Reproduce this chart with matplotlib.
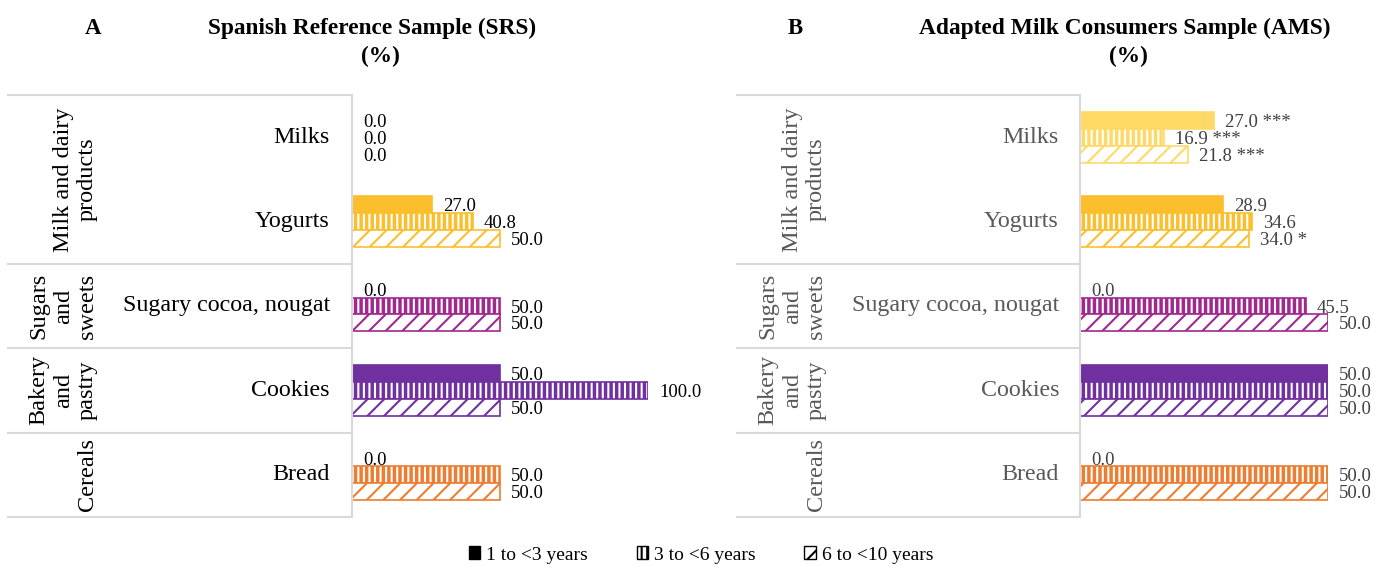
import matplotlib
matplotlib.use("Agg")
import matplotlib.pyplot as plt
import matplotlib.transforms as mtrans
from matplotlib.patches import Patch
from matplotlib.lines import Line2D

# ---------------- data ----------------
categories = ["Milks", "Yogurts", "Sugary cocoa, nougat", "Cookies", "Bread"]
group_labels = ["Milk and dairy\nproducts", "Sugars\nand\nsweets", "Bakery\nand\npastry", "Cereals"]
group_first = [0, 2, 3, 4]
group_last = [1, 2, 3, 4]
series_labels = ["1 to <3 years", "3 to <6 years", "6 to <10 years"]

srs_1_3 = [0.0, 27.0, 0.0, 50.0, 0.0]
srs_3_6 = [0.0, 40.8, 50.0, 100.0, 50.0]
srs_6_10 = [0.0, 50.0, 50.0, 50.0, 50.0]

ams_1_3 = [27.0, 28.9, 0.0, 50.0, 0.0]
ams_3_6 = [16.9, 34.6, 45.5, 50.0, 50.0]
ams_6_10 = [21.8, 34.0, 50.0, 50.0, 50.0]
ams_sig_1_3 = ["***", "", "", "", ""]
ams_sig_3_6 = ["***", "", "", "", ""]
ams_sig_6_10 = ["***", "*", "", "", ""]

colors_srs = ["#FFD966", "#FBBF2D", "#A0288F", "#7030A0", "#ED7D31"]
colors_ams = ["#FFD966", "#FBBF2D", "#A0288F", "#7030A0", "#ED7D31"]

# ---------------- figure ----------------
W, H = 1387, 567
plt.rcParams["font.family"] = ["Liberation Serif", "DejaVu Serif"]
plt.rcParams["hatch.linewidth"] = 1.5
fig = plt.figure(figsize=(W / 100, H / 100), dpi=100)


def fx(px):
    return px / W


def fy(py):
    return 1 - py / H


GRID = "#D9D9D9"
TOP, BOTTOM = 95, 517

panels = [
    dict(letter="A", title="Spanish Reference Sample (SRS)",
         vals=[srs_1_3, srs_3_6, srs_6_10], sigs=[[""] * 5] * 3,
         colors=colors_srs, table_left=8, axis_left=352, axis_right=648,
         xmax=100, tcol="black", vcol="black", letter_x=93, title_x=372, pct_x=380),
    dict(letter="B", title="Adapted Milk Consumers Sample (AMS)",
         vals=[ams_1_3, ams_3_6, ams_6_10], sigs=[ams_sig_1_3, ams_sig_3_6, ams_sig_6_10],
         colors=colors_ams, table_left=737, axis_left=1080, axis_right=1328,
         xmax=50, tcol="#595959", vcol="#404040", letter_x=795, title_x=1125, pct_x=1128),
]

n = len(categories)
bh = 0.2
offsets = [-bh, 0.0, bh]

for p in panels:
    ax = fig.add_axes([fx(p["axis_left"]), fy(BOTTOM), fx(p["axis_right"]) - fx(p["axis_left"]),
                       (BOTTOM - TOP) / H])
    ax.set_xlim(0, p["xmax"])
    ax.set_ylim(n - 0.5, -0.5)
    for s in ["top", "right", "bottom"]:
        ax.spines[s].set_visible(False)
    ax.spines["left"].set_color(GRID)
    ax.spines["left"].set_linewidth(1.5)
    ax.set_xticks([])
    ax.set_yticks([])
    ax.patch.set_alpha(0)

    cols = p["colors"]
    for si, (vals, sigs) in enumerate(zip(p["vals"], p["sigs"])):
        ys = [i + offsets[si] for i in range(n)]
        lws = [1.2 if v > 0 else 0 for v in vals]
        if si == 0:
            ax.barh(ys, vals, height=bh, color=cols, edgecolor=cols, linewidth=lws)
        elif si == 1:
            ax.barh(ys, vals, height=bh, color=cols, edgecolor="white", hatch="|||", linewidth=0)
            ax.barh(ys, vals, height=bh, fill=False, edgecolor=cols, linewidth=lws)
        else:
            ax.barh(ys, vals, height=bh, color="white", edgecolor=cols, hatch="//", linewidth=lws)
        for y, v, sg in zip(ys, vals, sigs):
            txt = f"{v:.1f}" + (" " + sg if sg else "")
            ax.annotate(txt, xy=(v, y), xytext=(8, -1.5), textcoords="offset points",
                        ha="left", va="center", fontsize=13.5, color=p["vcol"],
                        annotation_clip=False)

    # table on the left
    tr = mtrans.blended_transform_factory(fig.transFigure, ax.transData)
    xl, xr = fx(p["table_left"]), fx(p["axis_left"])
    bounds = [-0.5] + [g + 0.5 for g in group_last]
    for b in bounds:
        fig.add_artist(Line2D([xl, xr], [b, b], transform=tr, color=GRID, lw=1.5))
    for i, c in enumerate(categories):
        fig.text(fx(p["table_left"] + 322), i, c, transform=tr, ha="right", va="center",
                 fontsize=17.3, color=p["tcol"])
    for g, a, b in zip(group_labels, group_first, group_last):
        fig.text(fx(p["table_left"] + 90), (a + b) / 2, g, transform=tr, rotation=90,
                 ha="right", va="center", multialignment="center", fontsize=17.5,
                 color=p["tcol"], linespacing=1.2)

    fig.text(fx(p["letter_x"]), fy(28), p["letter"], ha="center", va="center",
             fontsize=16.5, fontweight="bold")
    fig.text(fx(p["title_x"]), fy(28), p["title"], ha="center", va="center",
             fontsize=16.8, fontweight="bold")
    fig.text(fx(p["pct_x"]), fy(56), "(%)", ha="center", va="center",
             fontsize=16.8, fontweight="bold")

handles = [Patch(facecolor="black", edgecolor="black"),
           Patch(facecolor="white", edgecolor="black", hatch="|||"),
           Patch(facecolor="white", edgecolor="black", hatch="//")]
fig.legend(handles, series_labels, loc="center", bbox_to_anchor=(fx(701), fy(555)),
           ncol=3, frameon=False, fontsize=14, handlelength=0.6, handleheight=0.6,
           handletextpad=0.3, columnspacing=2.5)

fig.savefig("out.png", dpi=100)
